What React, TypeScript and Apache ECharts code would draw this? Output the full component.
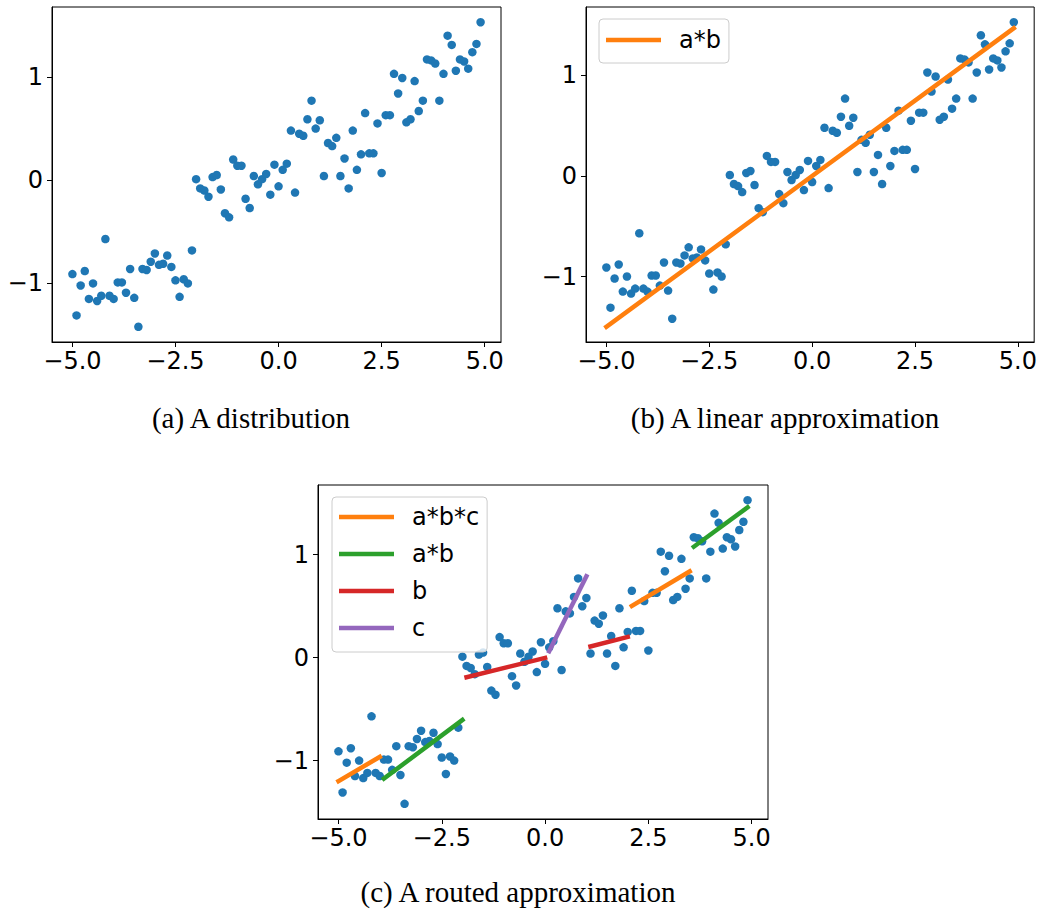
import React, { useEffect, useRef } from "react";
import * as echarts from "echarts";

// ---- data ----
const points: [number, number][] = [
  [-5.0, -0.91], [-4.9, -1.31], [-4.8, -1.02], [-4.7, -0.88], [-4.6, -1.15],
  [-4.5, -1.0], [-4.4, -1.17], [-4.3, -1.12], [-4.2, -0.57], [-4.1, -1.12],
  [-4.0, -1.15], [-3.9, -0.99], [-3.8, -0.99], [-3.7, -1.09], [-3.6, -0.86],
  [-3.5, -1.14], [-3.4, -1.42], [-3.3, -0.86], [-3.2, -0.87], [-3.1, -0.79],
  [-3.0, -0.71], [-2.9, -0.82], [-2.8, -0.81], [-2.7, -0.73], [-2.6, -0.84],
  [-2.5, -0.97], [-2.4, -1.13], [-2.3, -0.96], [-2.2, -1.0], [-2.1, -0.68],
  [-2.0, 0.01], [-1.9, -0.08], [-1.8, -0.1], [-1.7, -0.16], [-1.6, 0.03],
  [-1.5, 0.05], [-1.4, -0.09], [-1.3, -0.32], [-1.2, -0.36], [-1.1, 0.2],
  [-1.0, 0.14], [-0.9, 0.14], [-0.8, -0.18], [-0.7, -0.27], [-0.6, 0.04],
  [-0.5, -0.04], [-0.4, 0.01], [-0.3, 0.06], [-0.2, -0.14], [-0.1, 0.15],
  [0.0, -0.06], [0.1, 0.1], [0.2, 0.16], [0.3, 0.48], [0.4, -0.12],
  [0.5, 0.45], [0.6, 0.43], [0.7, 0.59], [0.8, 0.77], [0.9, 0.5],
  [1.0, 0.58], [1.1, 0.04], [1.2, 0.36], [1.3, 0.33], [1.4, 0.41],
  [1.5, 0.04], [1.6, 0.21], [1.7, -0.08], [1.8, 0.48], [1.9, 0.1],
  [2.0, 0.25], [2.1, 0.65], [2.2, 0.26], [2.3, 0.26], [2.4, 0.55],
  [2.5, 0.07], [2.6, 0.63], [2.7, 0.63], [2.8, 1.03], [2.9, 0.84],
  [3.0, 0.99], [3.1, 0.56], [3.2, 0.59], [3.3, 0.96], [3.4, 0.67],
  [3.5, 0.77], [3.6, 1.17], [3.7, 1.16], [3.8, 1.13], [3.9, 0.77],
  [4.0, 1.03], [4.1, 1.4], [4.2, 1.31], [4.3, 1.06], [4.4, 1.17],
  [4.5, 1.15], [4.6, 1.08], [4.7, 1.24], [4.8, 1.32], [4.9, 1.53],
];

const linearName = "a*b";
const linearLine: [number, number][] = [[-5.0, -1.5], [4.9, 1.47]];

const routedNames = ["a*b*c", "a*b", "b", "c", "b", "a*b*c", "a*b"];
const routedLines: [number, number][][] = [
  [[-5.0, -1.2], [-4.0, -0.964]],
  [[-3.9, -1.175], [-2.0, -0.605]],
  [[-1.9, -0.19], [0.0, -0.002]],
  [[0.1, 0.063], [1.0, 0.79]],
  [[1.1, 0.109], [2.0, 0.201]],
  [[2.1, 0.502], [3.5, 0.838]],
  [[3.6, 1.078], [4.9, 1.46]],
];
const routedLegend = ["a*b*c", "a*b", "b", "c"];

const xTicks = [-5, -2.5, 0, 2.5, 5];
const yTicks = [-1, 0, 1];
const captions = ["(a) A distribution", "(b) A linear approximation", "(c) A routed approximation"];

// ---- styles ----
const COLORS: Record<string, string> = {
  "a*b*c": "#ff7f0e",
  "a*b": "#2ca02c",
  b: "#d62728",
  c: "#9467bd",
};
const LINEAR_COLOR = "#ff7f0e";
const DOT = "#1f77b4";
const SANS = "DejaVu Sans";
const SERIF = "Liberation Serif";
const FS = 24;

function range(vals: number[]): [number, number] {
  const lo = Math.min(...vals);
  const hi = Math.max(...vals);
  const m = (hi - lo) * 0.05;
  return [lo - m, hi + m];
}

const fmtX = (v: number) => (v < 0 ? "\u2212" : "") + Math.abs(v).toFixed(1);
const fmtY = (v: number) => (v < 0 ? "\u2212" : "") + String(Math.abs(Math.round(v)));

export default function App() {
  const ref = useRef<HTMLDivElement>(null);

  useEffect(() => {
    if (!ref.current) return;
    const chart = echarts.init(ref.current, undefined, { renderer: "svg" });

    const xr = range(points.map((p) => p[0]));
    const yrA = range(points.map((p) => p[1]));
    const yrB = range(points.map((p) => p[1]).concat(linearLine.map((p) => p[1])));
    const yrC = range(points.map((p) => p[1]).concat(routedLines.flat().map((p) => p[1])));
    const yRanges = [yrA, yrB, yrC];

    const grids = [
      { left: 52, top: 7, width: 449, height: 335 },
      { left: 586, top: 7, width: 450, height: 335 },
      { left: 318, top: 485, width: 450, height: 334 },
    ];

    const xAxis = grids.map((_, i) => ({
      type: "value",
      gridIndex: i,
      min: xr[0],
      max: xr[1],
      splitLine: { show: false },
      axisLine: { show: true, onZero: false, lineStyle: { color: "#000", width: 1 } },
      axisTick: { show: true, customValues: xTicks, length: 5, lineStyle: { color: "#000", width: 1 } },
      axisLabel: {
        customValues: xTicks,
        formatter: (v: number) => fmtX(v),
        fontFamily: SANS,
        fontSize: FS,
        color: "#000",
        margin: 7,
      },
    }));

    const yAxis = grids.map((_, i) => ({
      type: "value",
      gridIndex: i,
      min: yRanges[i][0],
      max: yRanges[i][1],
      splitLine: { show: false },
      axisLine: { show: true, onZero: false, lineStyle: { color: "#000", width: 1 } },
      axisTick: { show: true, customValues: yTicks, length: 5, lineStyle: { color: "#000", width: 1 } },
      axisLabel: {
        customValues: yTicks,
        formatter: (v: number) => fmtY(v),
        fontFamily: SANS,
        fontSize: FS,
        color: "#000",
        margin: 9,
      },
    }));

    const scatter = (i: number) => ({
      type: "scatter",
      xAxisIndex: i,
      yAxisIndex: i,
      data: points,
      symbolSize: 8.5,
      itemStyle: { color: DOT, opacity: 1 },
      z: 2,
      silent: true,
    });

    const lineSeries = (name: string, data: [number, number][], color: string, i: number) => ({
      type: "line",
      name,
      xAxisIndex: i,
      yAxisIndex: i,
      data,
      showSymbol: false,
      symbol: "none",
      color,
      itemStyle: { color },
      lineStyle: { color, width: 4.5, cap: "square" },
      z: 3,
      silent: true,
    });

    const series: any[] = [
      scatter(0),
      scatter(1),
      lineSeries(linearName, linearLine, LINEAR_COLOR, 1),
      scatter(2),
      ...routedLines.map((seg, k) => lineSeries(routedNames[k], seg, COLORS[routedNames[k]], 2)),
    ];

    const legendBase = {
      orient: "vertical",
      icon: "rect",
      itemWidth: 55,
      itemHeight: 4.5,
      selectedMode: false,
      borderColor: "#cccccc",
      borderWidth: 1,
      borderRadius: 4,
      backgroundColor: "rgba(255,255,255,0.8)",
    };

    const option: any = {
      animation: false,
      backgroundColor: "#fff",
      grid: grids.map((g) => ({ ...g, show: true, borderColor: "#000", borderWidth: 1, backgroundColor: "transparent" })),
      xAxis,
      yAxis,
      series,
      legend: [
        {
          ...legendBase,
          left: 599,
          top: 19,
          padding: [9, 8, 11, 7],
          data: [{ name: linearName, itemStyle: { color: LINEAR_COLOR } }],
          textStyle: { fontFamily: SANS, fontSize: FS, color: "#000", padding: [0, 0, 0, 13], width: 45 },
        },
        {
          ...legendBase,
          left: 332,
          top: 497,
          itemGap: 13,
          padding: [8, 8, 12, 7],
          data: routedLegend.map((n) => ({ name: n, itemStyle: { color: COLORS[n] } })),
          textStyle: { fontFamily: SANS, fontSize: FS, color: "#000", padding: [0, 0, 0, 13], width: 72 },
        },
      ],
      graphic: [
        { x: 251, y: 418 },
        { x: 785, y: 418 },
        { x: 518, y: 892 },
      ].map((p, i) => ({
        type: "text",
        x: p.x,
        y: p.y,
        style: {
          text: captions[i],
          fontFamily: SERIF,
          fontSize: 29,
          fill: "#000",
          align: "center",
          verticalAlign: "middle",
        },
      })),
    };

    chart.setOption(option);
    return () => chart.dispose();
  }, []);

  return (
    <div
      ref={ref}
      style={{ position: "absolute", left: 0, top: 0, width: 1040, height: 909, background: "#fff" }}
    />
  );
}
